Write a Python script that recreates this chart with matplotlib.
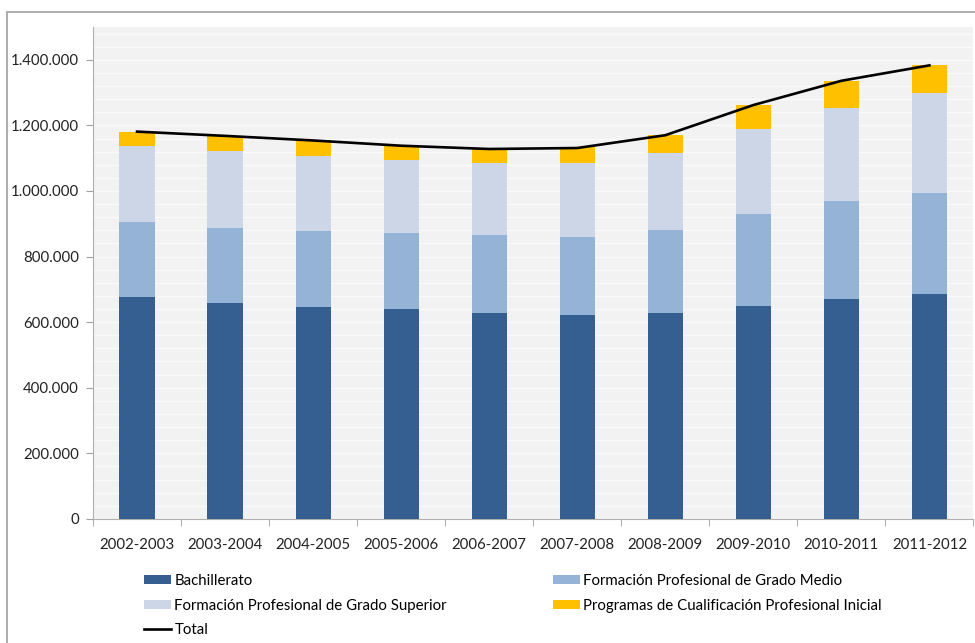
import numpy as np
import matplotlib
matplotlib.use("Agg")
import matplotlib.pyplot as plt
import matplotlib.ticker as ticker
from matplotlib.patches import Rectangle

plt.rcParams['font.family'] = ['Lato', 'DejaVu Sans']

# Data
cursos = ['2002-2003', '2003-2004', '2004-2005', '2005-2006', '2006-2007',
          '2007-2008', '2008-2009', '2009-2010', '2010-2011', '2011-2012']
bachillerato = [678000, 658000, 646000, 640000, 629000, 621000, 629000, 650000, 671000, 685000]
fp_medio = [227000, 229000, 233000, 232000, 236000, 240000, 252000, 279000, 299000, 309000]
fp_superior = [232000, 235000, 228000, 221000, 219000, 223000, 234000, 260000, 284000, 305000]
pcpi = [44000, 46000, 47000, 45000, 44000, 49000, 55000, 74000, 82000, 84000]
total = [1181000, 1168000, 1154000, 1138000, 1128000, 1131000, 1170000, 1262000, 1336000, 1383000]

c_bach = '#365F91'
c_medio = '#95B3D7'
c_sup = '#CCD6E6'
c_pcpi = '#FFC000'

fig = plt.figure(figsize=(9.75, 6.43), dpi=100)
ax = fig.add_axes([0.0954, 0.193, 0.903, 0.765])
ax.set_facecolor('#F2F2F2')

x = np.arange(len(cursos))
w = 0.4
b1 = ax.bar(x, bachillerato, w, color=c_bach, label='Bachillerato', zorder=3)
bottom = np.array(bachillerato)
b2 = ax.bar(x, fp_medio, w, bottom=bottom, color=c_medio,
            label='Formación Profesional de Grado Medio', zorder=3)
bottom = bottom + np.array(fp_medio)
b3 = ax.bar(x, fp_superior, w, bottom=bottom, color=c_sup,
            label='Formación Profesional de Grado Superior', zorder=3)
bottom = bottom + np.array(fp_superior)
b4 = ax.bar(x, pcpi, w, bottom=bottom, color=c_pcpi,
            label='Programas de Cualificación Profesional Inicial', zorder=3)
l1, = ax.plot(x, total, color='black', lw=1.9, label='Total', zorder=4)

ax.set_xlim(-0.5, len(cursos) - 0.5)
ax.set_ylim(0, 1500000)
ax.yaxis.set_major_locator(ticker.MultipleLocator(200000))
ax.yaxis.set_minor_locator(ticker.MultipleLocator(40000))
ax.yaxis.set_major_formatter(ticker.FuncFormatter(lambda v, p: f'{int(v):,}'.replace(',', '.')))
ax.grid(True, which='both', axis='y', color='#FAFAFA', lw=1, zorder=1)

ax.set_xticks(x)
ax.set_xticklabels(cursos)
ax.xaxis.set_minor_locator(ticker.FixedLocator(np.arange(-0.5, len(cursos), 1)))
ax.tick_params(axis='x', which='major', length=0, pad=14, labelsize=10.8, labelcolor='#222222')
ax.tick_params(axis='x', which='minor', length=5, color='#a0a0a0')
ax.tick_params(axis='y', which='major', length=5, color='#a0a0a0', labelsize=10.8, labelcolor='#222222', pad=5)
ax.tick_params(axis='y', which='minor', length=0)

for s in ['top', 'right']:
    ax.spines[s].set_visible(False)
ax.spines['left'].set_color('#b0b0b0')
ax.spines['bottom'].set_color('#b0b0b0')

handles = [b1, b3, l1, b2, b4]
labels = [h.get_label() for h in handles]
fig.legend(handles, labels, ncol=2, loc='upper left', bbox_to_anchor=(0.142, 0.117),
           frameon=False, fontsize=10.8, handlelength=1.8, handleheight=0.6,
           handletextpad=0.2, columnspacing=7.05, labelspacing=0.72, borderaxespad=0)

fig.patches.append(Rectangle((7 / 975, -0.1), 1.2, 1.1 - 12 / 643, transform=fig.transFigure,
                             fill=False, edgecolor='#a0a0a0', lw=1.2))

fig.savefig('out.png', dpi=100)
